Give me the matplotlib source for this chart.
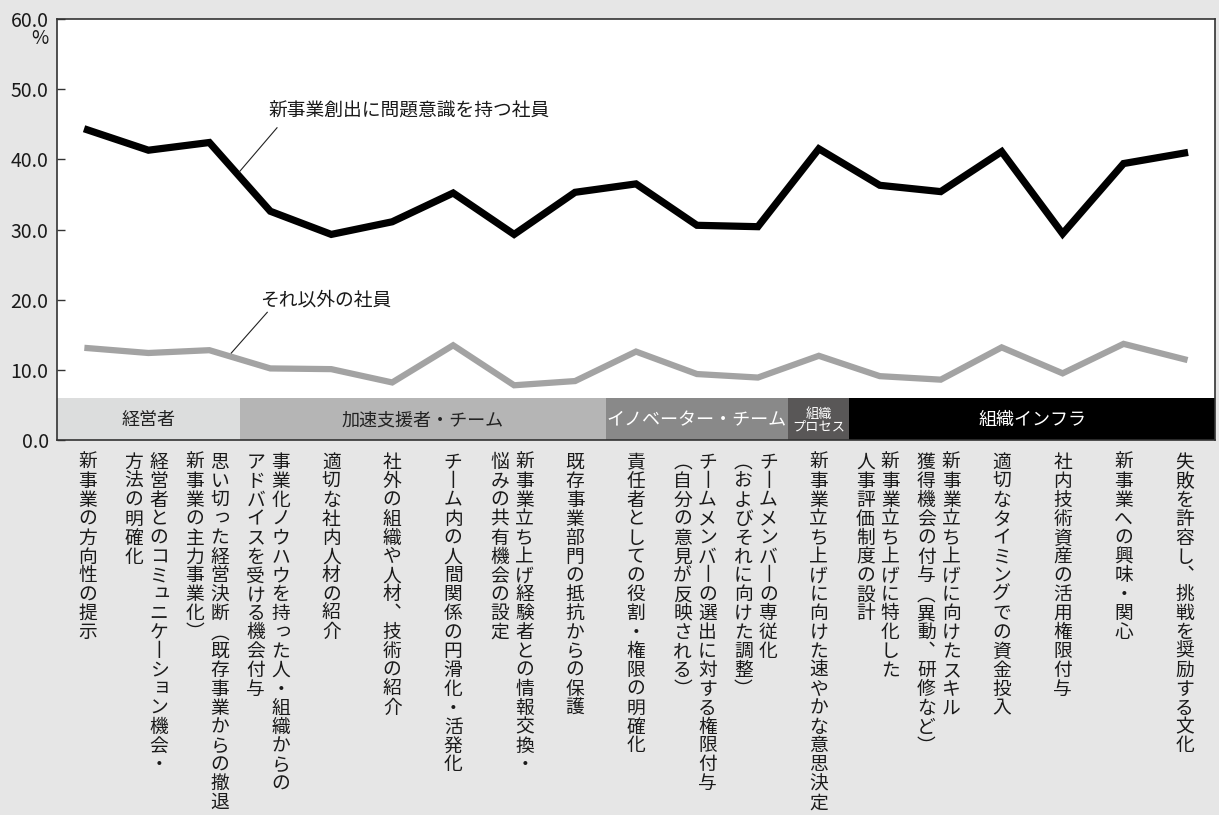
import matplotlib
matplotlib.use('Agg')
import matplotlib.pyplot as plt
from matplotlib.patches import Rectangle

plt.rcParams['font.family'] = ['Noto Sans CJK JP', 'DejaVu Sans']

# Werte in %
problem_bewusst = [44.2, 41.3, 42.4, 32.6, 29.3, 31.1, 35.2, 29.3, 35.3, 36.5,
                   30.6, 30.4, 41.5, 36.3, 35.4, 41.1, 29.4, 39.4, 40.9]
andere = [13.1, 12.4, 12.8, 10.2, 10.1, 8.2, 13.5, 7.8, 8.4, 12.6,
          9.4, 8.9, 12.0, 9.1, 8.6, 13.2, 9.5, 13.7, 11.5]

# Beschriftung je Kategorie: erste Spalte rechts
kategorien = [
    ['新事業の方向性の提示'],
    ['経営者とのコミュニケーション機会・', '方法の明確化'],
    ['思い切った経営決断（既存事業からの撤退・', '新事業の主力事業化）'],
    ['事業化ノウハウを持った人・組織からの', 'アドバイスを受ける機会付与'],
    ['適切な社内人材の紹介'],
    ['社外の組織や人材、技術の紹介'],
    ['チーム内の人間関係の円滑化・活発化'],
    ['新事業立ち上げ経験者との情報交換・', '悩みの共有機会の設定'],
    ['既存事業部門の抵抗からの保護'],
    ['責任者としての役割・権限の明確化'],
    ['チームメンバーの選出に対する権限付与', '（自分の意見が反映される）'],
    ['チームメンバーの専従化', '（およびそれに向けた調整）'],
    ['新事業立ち上げに向けた速やかな意思決定'],
    ['新事業立ち上げに特化した', '人事評価制度の設計'],
    ['新事業立ち上げに向けたスキル', '獲得機会の付与（異動、研修など）'],
    ['適切なタイミングでの資金投入'],
    ['社内技術資産の活用権限付与'],
    ['新事業への興味・関心'],
    ['失敗を許容し、挑戦を奨励する文化'],
]

gruppen = ['経営者', '加速支援者・チーム', 'イノベーター・チーム', '組織\nプロセス', '組織インフラ']
gruppen_anzahl = [3, 6, 3, 1, 6]
gruppen_farbe = ['#dcdddd', '#b5b5b5', '#898989', '#595757', '#000000']
gruppen_text = ['#222222', '#222222', '#ffffff', '#ffffff', '#ffffff']
gruppen_groesse = [13, 13, 13, 9.5, 13]

yticks = [0, 10, 20, 30, 40, 50, 60]

# senkrechter Satz
vertikal = {'ー': '丨', '（': '︵', '）': '︶', '、': '︑'}
klein = set('っッャュョィ')

fig = plt.figure(figsize=(12.19, 8.15), dpi=100, facecolor='#e6e6e6')
ax = fig.add_axes([57 / 1219, 375 / 815, 1158 / 1219, 421 / 815])
ax.set_facecolor('white')

n = len(problem_bewusst)
xs = list(range(n))
ax.plot(xs, problem_bewusst, color='black', lw=5.2, solid_joinstyle='miter', zorder=3)
ax.plot(xs, andere, color='#a3a3a3', lw=4.5, solid_joinstyle='miter', zorder=3)

ax.set_xlim(-0.5, n - 0.5)
ax.set_ylim(0, 60)
ax.set_yticks(yticks)
ax.set_yticklabels([f'{v:.1f}' for v in yticks], fontsize=14, color='#1a1a1a')
ax.set_xticks([])
ax.tick_params(axis='y', direction='in', length=6, width=1, color='#333333', pad=6)
for s in ax.spines.values():
    s.set_color('#333333')
    s.set_linewidth(1.2)
fig.text(40 / 1219, 1 - 39 / 815, '%', fontsize=13.5, color='#1a1a1a', ha='center', va='center')

# Bereiche unten
start = -0.5
for name, anz, farbe, tc, gr in zip(gruppen, gruppen_anzahl, gruppen_farbe, gruppen_text, gruppen_groesse):
    ax.add_patch(Rectangle((start, 0), anz, 6, facecolor=farbe, edgecolor='none', zorder=2))
    ax.text(start + anz / 2, 2.8, name, ha='center', va='center', fontsize=gr, color=tc,
            linespacing=0.95, zorder=4)
    start += anz

# Beschriftungen der Linien
ax.text(2.97, 46.9, '新事業創出に問題意識を持つ社員', fontsize=13.5, color='#1a1a1a', va='center')
ax.plot([3.11, 2.49], [44.5, 38.2], color='#222222', lw=0.8, zorder=4)
ax.text(2.83, 19.9, 'それ以外の社員', fontsize=13.5, color='#1a1a1a', va='center')
ax.plot([2.95, 2.36], [18.2, 12.4], color='#222222', lw=0.8, zorder=4)

# Kategorien senkrecht unter der Achse
pitch = 18.9
for i, spalten in enumerate(kategorien):
    m = len(spalten)
    for j, zeile in enumerate(spalten):
        if m == 1:
            dx = 0
        else:
            dx = -2 + 12.5 - 25 * j
        for k, ch in enumerate(zeile):
            zeichen = vertikal.get(ch, ch)
            ox, oy = 0, 0
            if ch in klein:
                ox, oy = 2.5, 3
            ax.annotate(zeichen, xy=(i, 0), xycoords=ax.get_xaxis_transform(),
                        xytext=(dx + ox, -28 - k * pitch + oy), textcoords='offset pixels',
                        ha='center', va='baseline', fontsize=13.5, color='#1a1a1a',
                        annotation_clip=False)

fig.savefig('out.png', dpi=100, facecolor=fig.get_facecolor())
